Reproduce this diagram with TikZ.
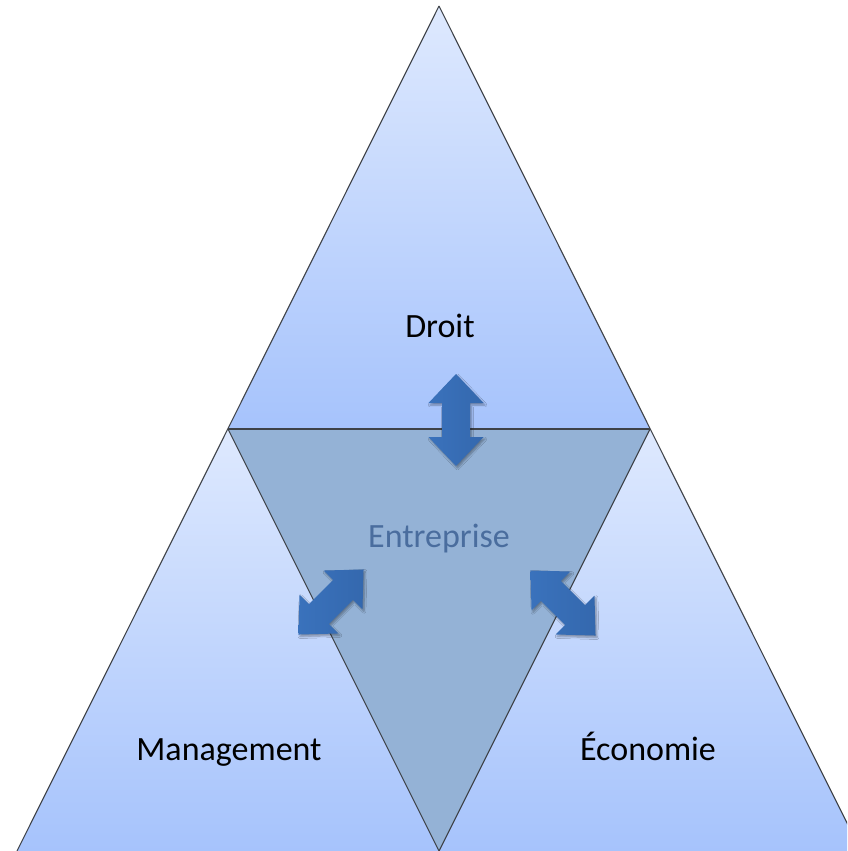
\documentclass[tikz,border=0pt]{standalone}
\usepackage{fontspec}
\setmainfont{Carlito}
\usetikzlibrary{shadows.blur}
\definecolor{triTop}{HTML}{DEE9FE}
\definecolor{triBot}{HTML}{A6C3FC}
\definecolor{midFill}{HTML}{94B2D6}
\definecolor{edgeCol}{HTML}{3E4248}
\definecolor{arrowCol}{HTML}{3A72BC}
\definecolor{arrowDark}{HTML}{3468AE}
\definecolor{entCol}{HTML}{4A6D9E}
\tikzset{
  tri/.style={top color=triTop, bottom color=triBot},
  edge/.style={draw=edgeCol, line width=1.1pt, line join=round},
  dblarrow/.style={left color=arrowCol, right color=arrowDark, draw=none,
    blur shadow={shadow xshift=1.5pt, shadow yshift=-2pt, shadow blur steps=6, shadow opacity=35}},
  lbl/.style={font=\fontsize{34}{40}\selectfont, text=black, inner sep=0pt, anchor=base},
}
\begin{document}
\begin{tikzpicture}[x=1pt,y=-1pt]
\useasboundingbox (0,0) rectangle (847,851);
\clip (0,0) rectangle (847,851);
% coordinates
\coordinate (A) at (439,6);
\coordinate (L) at (228,429);
\coordinate (R) at (650,429);
\coordinate (BL) at (17,851);
\coordinate (BM) at (439,851);
\coordinate (BR) at (861,851);
% three outer triangles
\shade[tri] (A) -- (R) -- (L) -- cycle;
\shade[tri] (L) -- (BM) -- (BL) -- cycle;
\shade[tri] (R) -- (BR) -- (BM) -- cycle;
% central inverted triangle
\fill[midFill] (L) -- (R) -- (BM) -- cycle;
% edges
\draw[edge] (A) -- (BR);
\draw[edge] (A) -- (BL);
\draw[edge] (L) -- (R);
\draw[edge] (L) -- (BM) -- (R);
% arrows
\foreach \cx/\cy/\ang in {456/420/0, 331/602/-45, 563/603/45}{
  \path[dblarrow, shift={(\cx,\cy)}, rotate=\ang]
    (0,-46) -- (27.5,-17) -- (14,-17) -- (14,17) -- (27.5,17) -- (0,46)
    -- (-27.5,17) -- (-14,17) -- (-14,-17) -- (-27.5,-17) -- cycle;
}
% labels
\node[lbl] (droit) at (440,337) {Droit};
\node[lbl, text=entCol] (ent) at (439,547) {Entreprise};
\node[lbl] (man) at (229,760) {Management};
\node[lbl] (eco) at (648,760) {Économie};
\end{tikzpicture}
\end{document}
